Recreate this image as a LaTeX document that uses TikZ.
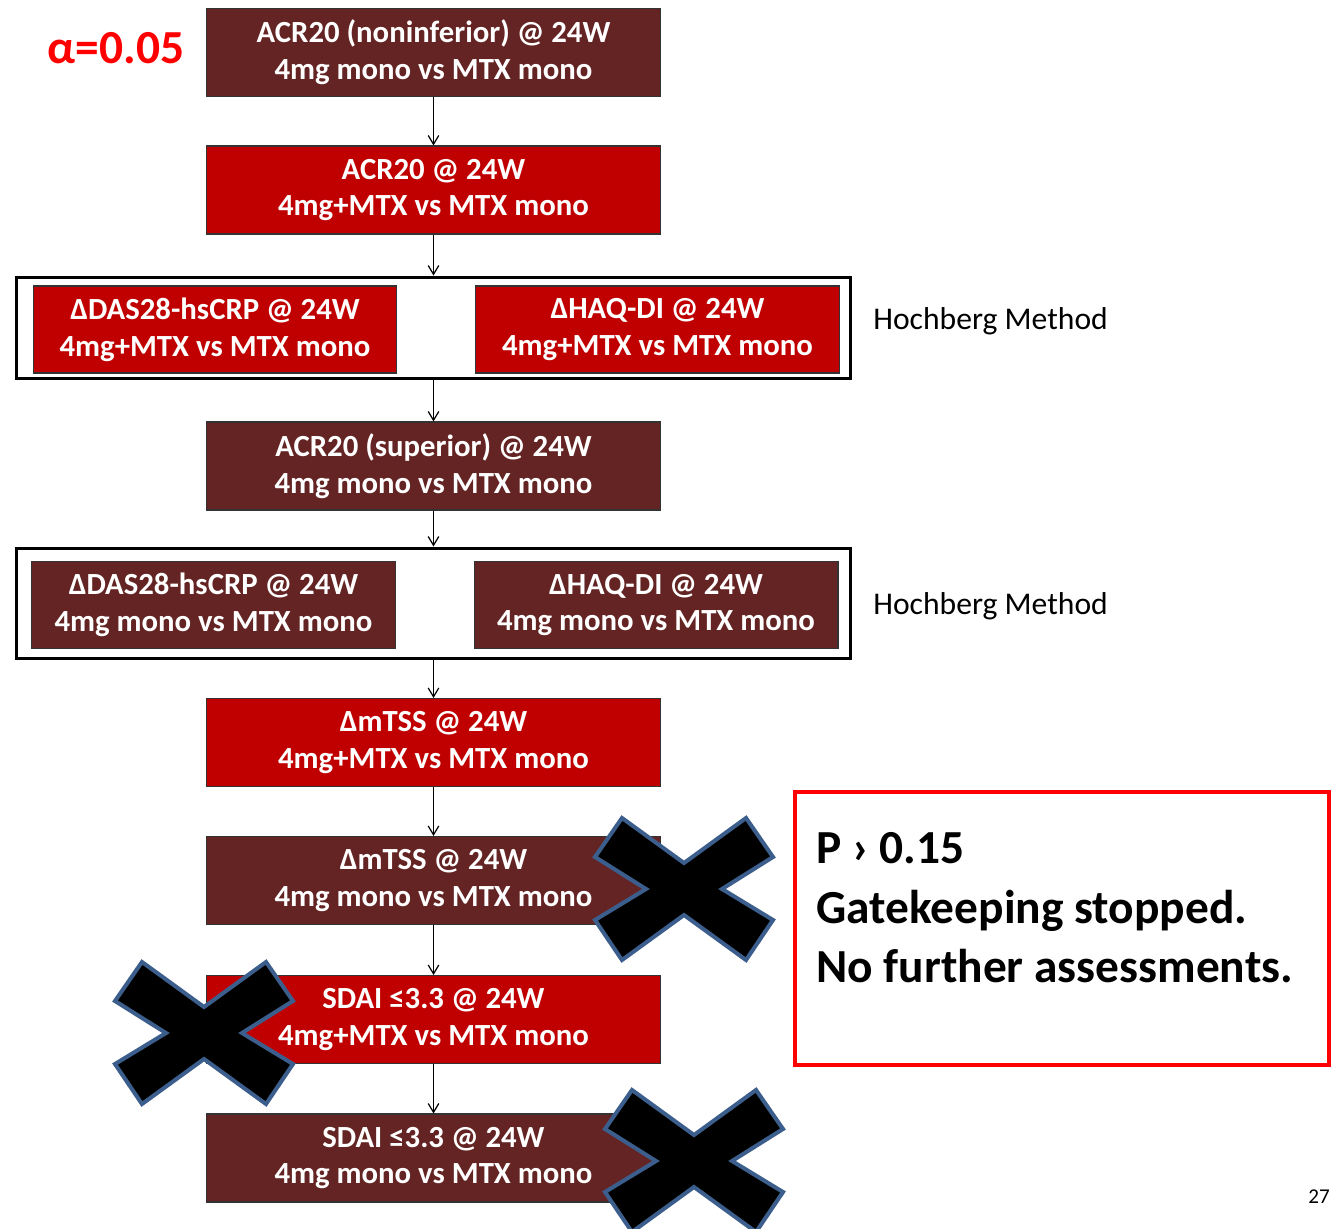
\documentclass[tikz,border=0pt]{standalone}
\usepackage{fontspec}
\setmainfont{Carlito}
\usepackage{xcolor}
\usetikzlibrary{arrows.meta,positioning}

\definecolor{gatedark}{RGB}{99,36,35}
\definecolor{gatered}{RGB}{192,0,0}
\definecolor{crossblue}{RGB}{59,94,140}
\definecolor{alertred}{RGB}{255,0,0}

\tikzset{
  stopcross/.pic={
    \draw[crossblue, line width=2.3pt, fill=black, line join=miter]
      (-62,-71) -- (0,-26) -- (62,-71) -- (89,-32) -- (38,0) -- (89,31)
      -- (62,71) -- (0,26) -- (-62,71) -- (-89,31) -- (-38,0) -- (-89,-32) -- cycle;
  }
}

\begin{document}
\begin{tikzpicture}[
  x=0.02cm, y=-0.02cm,
  gate/.style={rectangle, draw=black!80, line width=0.6pt, align=center, text=white, inner sep=0pt,
    font=\fontsize{17.5}{21}\selectfont\bfseries, minimum width=9.1cm, minimum height=1.76cm},
  gatemono/.style={gate, fill=gatedark},
  gatecombo/.style={gate, fill=gatered},
  pairbox/.style={gate, minimum width=7.28cm, minimum height=1.74cm},
  hochframe/.style={rectangle, draw, line width=1.7pt, minimum width=16.7cm},
  note/.style={font=\fontsize{18}{21}\selectfont, anchor=west, inner sep=0pt},
  arrow/.style={-{Straight Barb[length=5pt,width=6pt]}, line width=0.7pt}
]
\useasboundingbox (0,0) rectangle (1331,1229);

\node[gatemono] (acrni) at (433.5,52.5) {ACR20 (noninferior) @ 24W\\4mg mono vs MTX mono};
\node[gatecombo] (acrcombo) at (433.5,190) {ACR20 @ 24W\\4mg+MTX vs MTX mono};

\node[hochframe, minimum height=2.04cm] (hochA) at (433.5,328) {};
\node[pairbox, fill=gatered] (dasA) at (215,329.5) {ΔDAS28-hsCRP @ 24W\\4mg+MTX vs MTX mono};
\node[pairbox, fill=gatered] (haqA) at (657.5,329.5) {ΔHAQ-DI @ 24W\\4mg+MTX vs MTX mono};
\node[note] (hochlabA) at (873,321) {Hochberg Method};

\node[gatemono] (acrsup) at (433.5,466) {ACR20 (superior) @ 24W\\4mg mono vs MTX mono};

\node[hochframe, minimum height=2.22cm] (hochB) at (433.5,603.5) {};
\node[pairbox, fill=gatedark] (dasB) at (213.5,605) {ΔDAS28-hsCRP @ 24W\\4mg mono vs MTX mono};
\node[pairbox, fill=gatedark] (haqB) at (656,605) {ΔHAQ-DI @ 24W\\4mg mono vs MTX mono};
\node[note] (hochlabB) at (873,606) {Hochberg Method};

\node[gatecombo] (mtsscombo) at (433.5,742.5) {ΔmTSS @ 24W\\4mg+MTX vs MTX mono};
\node[gatemono] (mtssmono) at (433.5,880.5) {ΔmTSS @ 24W\\4mg mono vs MTX mono};
\node[gatecombo] (sdaicombo) at (433.5,1019.5) {SDAI ≤3.3 @ 24W\\4mg+MTX vs MTX mono};
\node[gatemono] (sdaimono) at (433.5,1158) {SDAI ≤3.3 @ 24W\\4mg mono vs MTX mono};

% alpha and stop note
\node[font=\fontsize{27}{30}\selectfont\bfseries, text=alertred] (alpha) at (116,48) {α=0.05};
\node[draw=alertred, line width=2.3pt, minimum width=10.68cm, minimum height=5.46cm] (stopbox) at (1062,928.5) {};
\node[font=\fontsize{27}{34}\selectfont\bfseries, align=left, anchor=north west, inner sep=0pt] (stopnote) at (816,832)
  {P › 0.15\\Gatekeeping stopped.\\No further assessments.};
\node[font=\fontsize{12}{14}\selectfont, anchor=west, inner sep=0pt] (pageno) at (1308,1197) {27};

\draw[arrow] (acrni) -- (acrcombo);
\draw[arrow] (acrcombo) -- (hochA);
\draw[arrow] (hochA) -- (acrsup);
\draw[arrow] (acrsup) -- (hochB);
\draw[arrow] (hochB) -- (mtsscombo);
\draw[arrow] (mtsscombo) -- (mtssmono);
\draw[arrow] (mtssmono) -- (sdaicombo);
\draw[arrow] (sdaicombo) -- (sdaimono);

\pic at (684,889) {stopcross};
\pic at (204,1033) {stopcross};
\pic at (694,1161) {stopcross};
\end{tikzpicture}
\end{document}
